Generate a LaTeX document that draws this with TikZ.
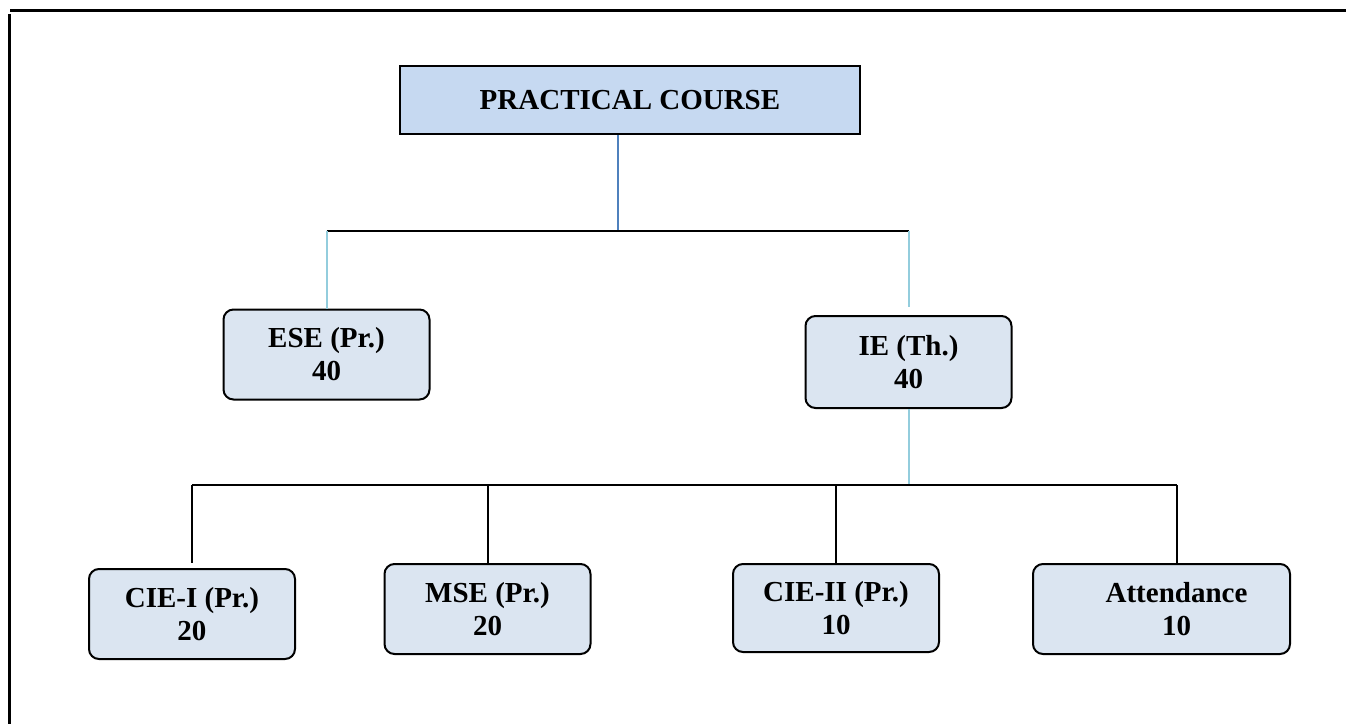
\documentclass[tikz,border=0pt]{standalone}
\usepackage{fontspec}
\setmainfont{Liberation Serif}
\usetikzlibrary{positioning}

\definecolor{headfill}{HTML}{C6D9F1}
\definecolor{boxfill}{HTML}{DBE5F1}
\definecolor{stemblue}{HTML}{4F81BD}
\definecolor{aqua}{HTML}{93CDDD}

\begin{document}
\begin{tikzpicture}[
    , x = 0.5pt
    , y = -0.5pt
    , font = \bfseries\fontsize{14.5}{16.5}\selectfont
    , head/.style = {
      , draw
      , line width = 1pt
      , fill = headfill
      , minimum width = 230pt
      , minimum height = 34pt
    }
    , box/.style = {
      , draw
      , line width = 1pt
      , fill = boxfill
      , rounded corners = 5pt
      , align = center
      , minimum width = 103pt
      , minimum height = 45pt
      , inner sep = 0pt
    }
    , bus/.style = {line width = 1pt}
    , drop/.style = {line width = 1pt, draw = aqua}
  ]
    \useasboundingbox (0,0) rectangle (1346,724);

    % page frame
    \draw [line width = 1.5pt] (10,10.5) -- (1346,10.5);
    \draw [line width = 1.5pt] (9.5,14) -- (9.5,724);

    \node (course) [head] at (630,100) {PRACTICAL COURSE};
    \node (ese) [box] at (326.5,354.5) {ESE (Pr.)\\40};
    \node (ie) [box, minimum height = 46pt] at (908.5,362) {IE (Th.)\\40};

    \node (cie1) [box] at (192,614) {CIE-I (Pr.)\\20};
    \node (mse) [box] at (487.5,609) {MSE (Pr.)\\20};
    \node (cie2) [box, minimum height = 44pt] at (836,608) {CIE-II (Pr.)\\10};
    \node (att) [box, minimum width = 128.5pt] at (1161.5,609)
      {\hspace*{15pt}Attendance\\\hspace*{15pt}10};

    \coordinate (split) at (618,231);
    \coordinate (join) at (908,485);
    \coordinate (att top) at (1177,564);

    % upper level
    \draw [line width = 1pt, draw = stemblue] (course.south -| split) -- (split);
    \draw [bus] (ese.north |- split) -- (ie.north |- split);
    \draw [drop] (ese.north |- split) -- (ese.north);
    \draw [drop, shorten > = 4pt] (ie.north |- split) -- (ie.north);

    % lower level
    \draw [drop] (ie.south) -- (ie.south |- join);
    \draw [bus] (cie1.north |- join) -- (att top |- join);
    \draw [bus, shorten > = 2.5pt] (cie1.north |- join) -- (cie1.north);
    \foreach \n in {mse, cie2}
      \draw [bus] (\n.north |- join) -- (\n.north);
    \draw [bus] (att top |- join) -- (att top);
  \end{tikzpicture}
\end{document}
